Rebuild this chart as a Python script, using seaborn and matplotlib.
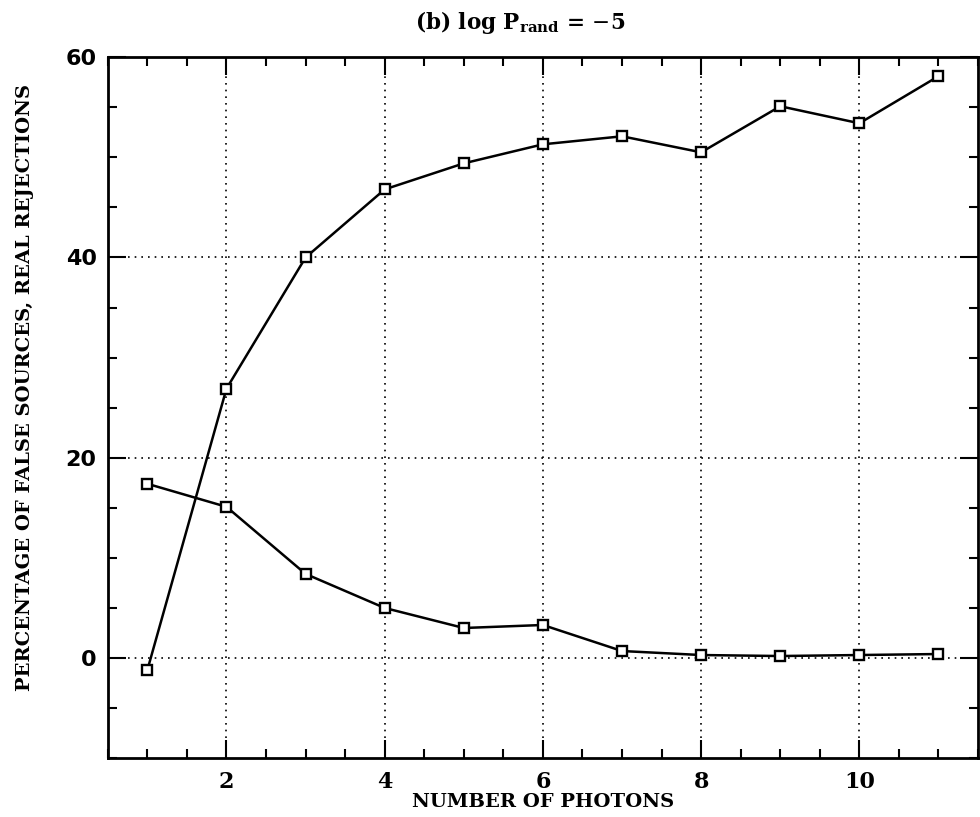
import matplotlib
matplotlib.use("Agg")
import matplotlib.pyplot as plt
from matplotlib.ticker import MultipleLocator
import seaborn as sns
import pandas as pd

# Data
photons = [1, 2, 3, 4, 5, 6, 7, 8, 9, 10, 11]
series_upper = [-1.2, 26.9, 40.0, 46.8, 49.4, 51.3, 52.1, 50.5, 55.1, 53.4, 58.1]
series_lower = [17.4, 15.1, 8.4, 5.0, 3.0, 3.3, 0.7, 0.3, 0.2, 0.3, 0.4]
x_ticks = [2, 4, 6, 8, 10]
y_ticks = [0, 20, 40, 60]

title_text = r"(b) log P$_{\mathbf{rand}}$ = $-$5"
xlabel_text = "NUMBER OF PHOTONS"
ylabel_text = "PERCENTAGE OF FALSE SOURCES, REAL REJECTIONS"

sns.set_theme(style="ticks")
plt.rcParams["font.family"] = ["DejaVu Serif"]
plt.rcParams["mathtext.fontset"] = "custom"
plt.rcParams["mathtext.rm"] = "DejaVu Serif"
plt.rcParams["mathtext.bf"] = "DejaVu Serif:bold"
plt.rcParams["text.color"] = "black"
plt.rcParams["axes.labelcolor"] = "black"
plt.rcParams["xtick.color"] = "black"
plt.rcParams["ytick.color"] = "black"
plt.rcParams["xtick.labelcolor"] = "black"
plt.rcParams["ytick.labelcolor"] = "black"

df = pd.DataFrame({
    "x": photons + photons,
    "y": series_upper + series_lower,
    "series": ["upper"] * len(photons) + ["lower"] * len(photons),
})

fig = plt.figure(figsize=(9.8, 8.17), dpi=100)
ax = fig.add_axes([0.110, 0.072, 0.888, 0.858])

sns.lineplot(data=df, x="x", y="y", units="series", estimator=None,
             color="black", linewidth=1.8, marker="s", markersize=7,
             markerfacecolor="white", markeredgecolor="black",
             markeredgewidth=1.7, ax=ax, legend=False, zorder=3)

ax.set_xlim(0.5, 11.5)
ax.set_ylim(-10, 60)
ax.set_xticks(x_ticks)
ax.set_yticks(y_ticks)
ax.xaxis.set_minor_locator(MultipleLocator(0.5))
ax.yaxis.set_minor_locator(MultipleLocator(5))

ax.grid(True, which="major", linestyle=(0, (1, 3)), color="black", linewidth=1.2)
ax.tick_params(which="both", direction="in", top=True, right=True,
               color="black", width=1.5, labelcolor="black")
ax.tick_params(which="major", length=13)
ax.tick_params(which="minor", length=6.5)
ax.tick_params(axis="x", which="major", labelsize=16, pad=9)
ax.tick_params(axis="y", which="major", labelsize=16, pad=8)
for lab in ax.get_yticklabels():
    lab.set_family(["DejaVu Sans"])
    lab.set_fontweight("bold")
for lab in ax.get_xticklabels():
    lab.set_fontweight("bold")

for sp in ax.spines.values():
    sp.set_linewidth(2)
    sp.set_color("black")

ax.set_xlabel(xlabel_text, fontsize=14, fontweight="bold", labelpad=0, color="black")
ax.set_ylabel(ylabel_text, fontsize=14, fontweight="bold", labelpad=22, color="black")
ax.yaxis.set_label_coords(-0.085, 0.529)
ax.set_title(title_text, fontsize=15.5, fontweight="bold", pad=20, x=0.474, color="black")

fig.savefig("out.png", dpi=100, facecolor="white")
